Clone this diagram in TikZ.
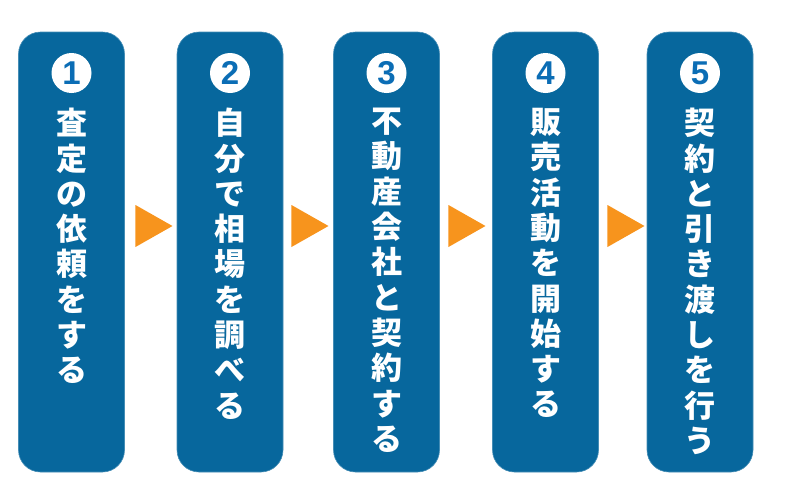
\documentclass[tikz,border=0pt]{standalone}
\usepackage{fontspec}
\newfontfamily\jpfont{Noto Sans CJK JP}
\setmainfont{Liberation Sans}
\usetikzlibrary{shapes.geometric}
\definecolor{stepblue}{HTML}{07679D}
\definecolor{numblue}{HTML}{0B6DB5}
\definecolor{arroworange}{HTML}{F7941D}

\begin{document}
\begin{tikzpicture}[x=1pt, y=-1pt,
        stepbox/.style = {rectangle, rounded corners=22pt, fill=stepblue, draw=stepblue!75!white,
          line width=0.6pt, minimum width=106pt, minimum height=440pt, inner sep=0pt},
        numcircle/.style = {circle, fill=white, minimum size=40pt, inner sep=0pt,
          text=numblue, font=\fontsize{33}{33}\selectfont\bfseries},
        steptext/.style = {anchor=north, inner sep=0pt, align=center, text=white,
          font=\jpfont\bfseries\fontsize{31}{35.3}\selectfont},
        nexttri/.style = {isosceles triangle, fill=arroworange, inner sep=0pt, anchor=apex,
          minimum height=37pt, minimum width=42pt, isosceles triangle stretches}]
        \useasboundingbox (0,0) rectangle (785,482);
        \node[stepbox] (b1) at (71.5,252) {};
        \node[stepbox] (b2) at (230,252) {};
        \node[stepbox] (b3) at (386.5,252) {};
        \node[stepbox] (b4) at (545.5,252) {};
        \node[stepbox] (b5) at (700,252) {};
        \node[numcircle] (n1) at (71.5,73) {1};
        \node[numcircle] (n2) at (230,73) {2};
        \node[numcircle] (n3) at (386.5,73) {3};
        \node[numcircle] (n4) at (545.5,73) {4};
        \node[numcircle] (n5) at (700,73) {5};
        \node[steptext] (t1) at (71.5,108) {査\\定\\の\\依\\頼\\を\\す\\る};
        \node[steptext] (t2) at (230,108) {自\\分\\で\\相\\場\\を\\調\\べ\\る};
        \node[steptext] (t3) at (386.5,108) {不\\動\\産\\会\\社\\と\\契\\約\\す\\る};
        \node[steptext] (t4) at (545.5,108) {販\\売\\活\\動\\を\\開\\始\\す\\る};
        \node[steptext] (t5) at (700,108) {契\\約\\と\\引\\き\\渡\\し\\を\\行\\う};
        \node[nexttri] (a1) at (173,226) {};
        \node[nexttri] (a2) at (329,226) {};
        \node[nexttri] (a3) at (486,226) {};
        \node[nexttri] (a4) at (645,226) {};
      \end{tikzpicture}
\end{document}
